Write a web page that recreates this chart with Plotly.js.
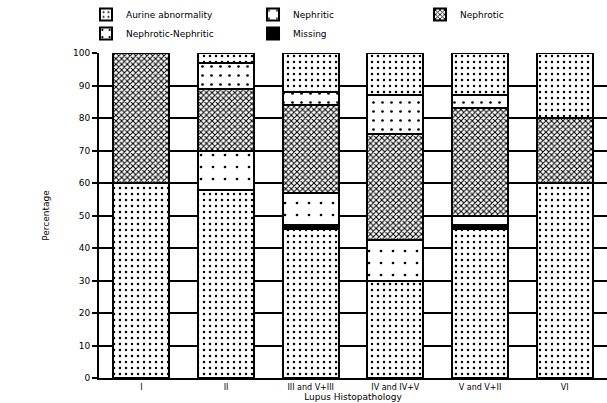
<!DOCTYPE html>
<html>
<head>
<meta charset="utf-8">
<script src="https://cdn.plot.ly/plotly-3.0.1.min.js"></script>
<style>html,body{margin:0;padding:0;background:#fff;}#chart{width:607px;height:403px;}</style>
</head>
<body>
<div id="chart"></div>
<script>
const categories = ["I", "II", "III and V+III", "IV and IV+V", "V and V+II", "VI"];
const aurineAbnormality = [60, 58, 46, 30, 46, 60];
const missing = [0, 0, 1, 0, 1, 0];
const nephritic = [0, 12, 10, 12.5, 3, 0];
const nephrotic = [40, 19, 27, 32.5, 33, 20];
const nephroticNephritic = [0, 8, 4, 12, 4, 0];
const topSegment = [0, 3, 12, 13, 13, 20];
const yTicks = [0, 10, 20, 30, 40, 50, 60, 70, 80, 90, 100];

const outline = {color: "#000", width: 2};
const densePat = {shape: ".", size: 6, solidity: 0.14, fgcolor: "#000", bgcolor: "#fff", fillmode: "replace"};
const sparsePat = {shape: ".", size: 12, solidity: 0.04, fgcolor: "#000", bgcolor: "#fff", fillmode: "replace"};
const crossPat = {shape: "x", size: 4, solidity: 0.45, fgcolor: "#000", bgcolor: "#fff", fillmode: "replace"};
const nnPat = {shape: ".", size: 9, solidity: 0.07, fgcolor: "#000", bgcolor: "#fff", fillmode: "replace"};
const missingPat = {shape: "x", size: 3, solidity: 0.7, fgcolor: "#000", bgcolor: "#000", fillmode: "replace"};

function bar(name, y, pattern, rank, extra) {
  return Object.assign({
    type: "bar", name: name, x: categories, y: y, legendrank: rank,
    marker: {color: "#fff", line: outline, pattern: pattern},
    hoverinfo: "skip"
  }, extra || {});
}

const traces = [
  bar("Aurine abnormality", aurineAbnormality, densePat, 1),
  bar("Missing", missing, missingPat, 5),
  bar("Nephritic", nephritic, sparsePat, 2),
  bar("Nephrotic", nephrotic, crossPat, 3),
  bar("Nephrotic-Nephritic", nephroticNephritic, nnPat, 4),
  bar("Other", topSegment, densePat, 6, {showlegend: false})
];

const layout = {
  width: 607, height: 403,
  margin: {l: 99, r: 0, t: 53, b: 25, autoexpand: false},
  paper_bgcolor: "#fff", plot_bgcolor: "#fff",
  barmode: "stack", bargap: 0.34,
  font: {family: "DejaVu Sans, Liberation Sans, sans-serif", size: 9, color: "#000"},
  showlegend: true,
  legend: {
    orientation: "h", traceorder: "normal",
    x: 0.1417, xanchor: "left", y: 1, yanchor: "top",
    xref: "container", yref: "container",
    entrywidth: 122, entrywidthmode: "pixels",
    font: {size: 9, color: "#000"}, itemwidth: 30, tracegroupgap: 0,
    bgcolor: "rgba(0,0,0,0)"
  },
  xaxis: {
    type: "category", range: [-0.5, 5.5],
    showgrid: false, showline: true, linecolor: "#000", linewidth: 2,
    ticks: "", tickfont: {size: 8, color: "#000"}, ticklabelstandoff: 0,
    title: {text: "Lupus Histopathology", font: {size: 9, color: "#000"}, standoff: 0},
    fixedrange: true
  },
  yaxis: {
    range: [0, 100], tickvals: yTicks, ticktext: yTicks.map(String),
    showgrid: true, gridcolor: "#000", gridwidth: 2,
    showline: true, linecolor: "#000", linewidth: 2,
    ticks: "outside", ticklen: 5, tickwidth: 2, tickcolor: "#000",
    tickfont: {size: 9, color: "#000"},
    zeroline: false,
    title: {text: "Percentage", font: {size: 9, color: "#000"}, standoff: 22},
    fixedrange: true
  }
};

Plotly.newPlot("chart", traces, layout, {displayModeBar: false, staticPlot: true});
</script>
</body>
</html>
